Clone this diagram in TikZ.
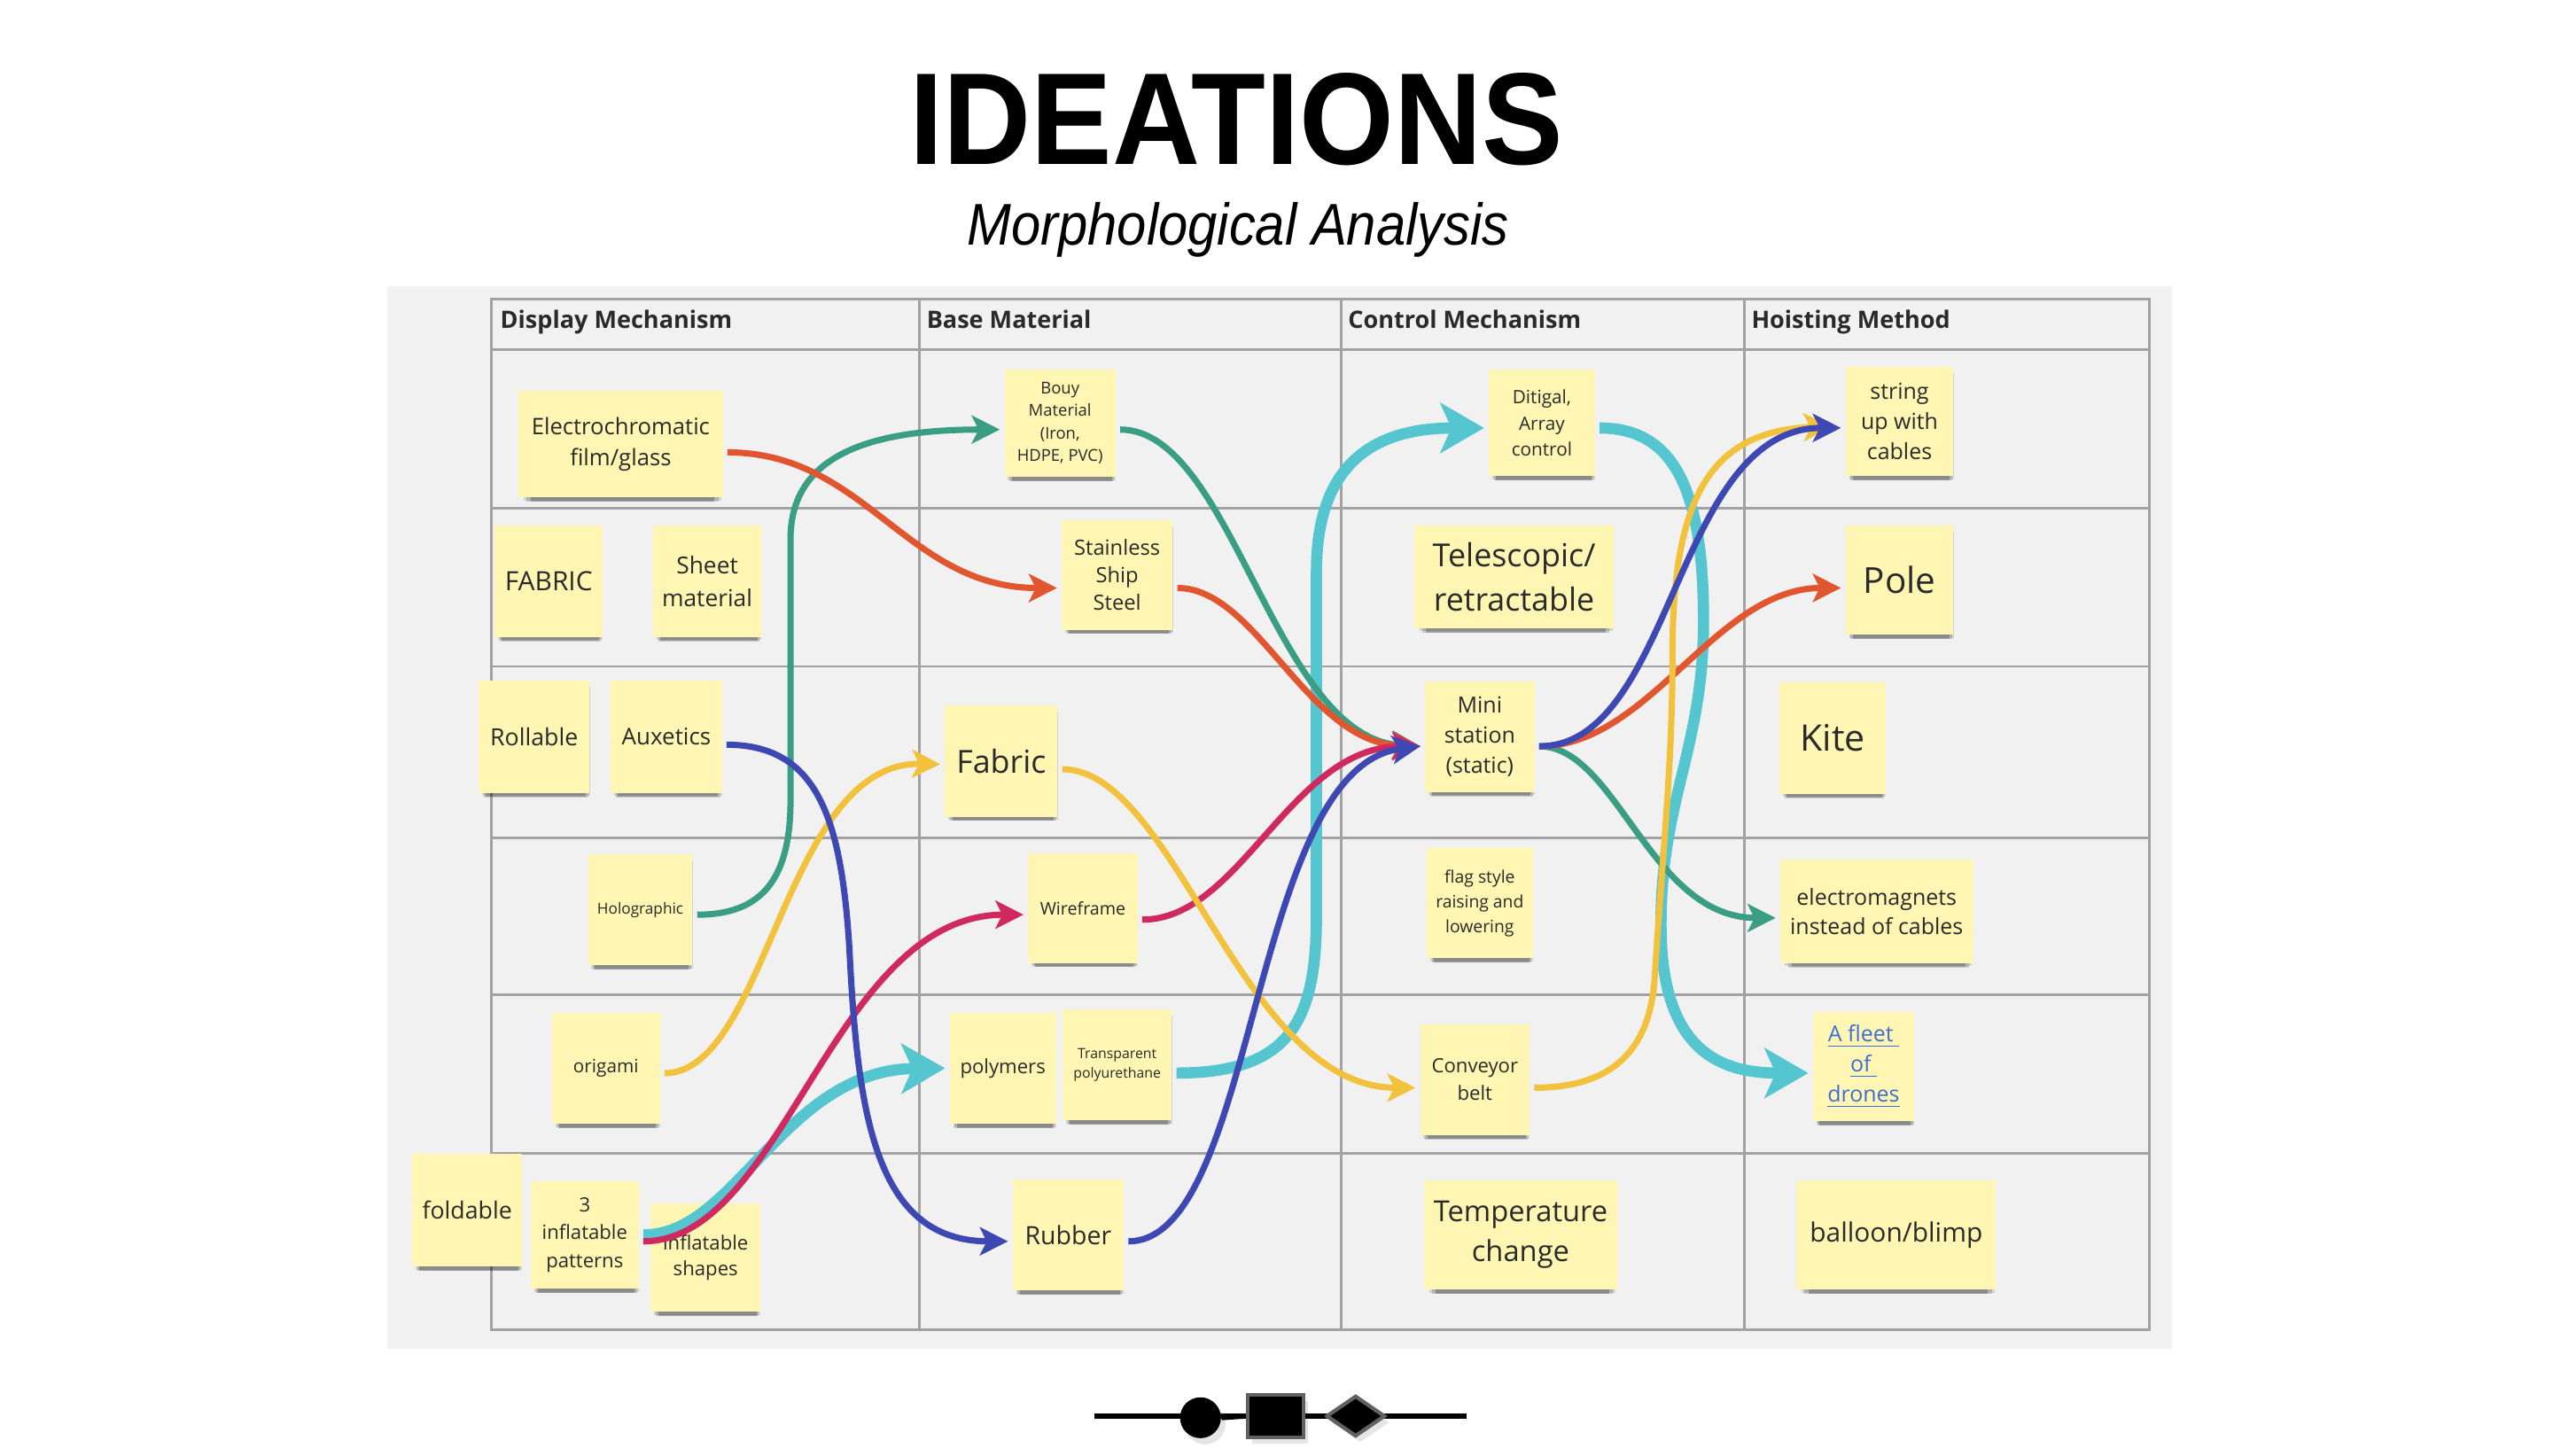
\documentclass[tikz,border=0pt]{standalone}
\usepackage{fontspec}
\setmainfont{Open Sans}
\newfontfamily\arialf{Liberation Sans}
\usepackage{graphicx}
\usetikzlibrary{arrows.meta,shadows,shapes.geometric,calc}
\definecolor{notey}{HTML}{FEF6B2}
\definecolor{notetext}{HTML}{2A2A2A}
\definecolor{panelc}{HTML}{F1F1F1}
\definecolor{gridc}{HTML}{A2A2A2}
\definecolor{cred}{HTML}{E1552F}
\definecolor{cteal}{HTML}{3A9E85}
\definecolor{cblue}{HTML}{3D48B2}
\definecolor{cyell}{HTML}{F3C23D}
\definecolor{cmag}{HTML}{CF2960}
\definecolor{ccyan}{HTML}{55C6D0}
\definecolor{linkb}{HTML}{3F6CD8}
\newcommand\setfs[2]{\fontsize{#1}{#2}\selectfont}
\begin{document}
\begin{tikzpicture}[x=0.018431cm,y=-0.018431cm,
  note/.style={fill=notey, inner sep=1pt, outer sep=1.5pt, align=center, text=notetext,
    drop shadow={shadow xshift=0.6pt, shadow yshift=-1.6pt, shadow scale=0.97, opacity=0.12, fill=black},
    drop shadow={shadow xshift=0.6pt, shadow yshift=-2.6pt, shadow scale=0.94, opacity=0.16, fill=black},
    drop shadow={shadow xshift=0.6pt, shadow yshift=-3.4pt, shadow scale=0.90, opacity=0.22, fill=black}},
  sz/.style 2 args={minimum width=#1*0.5245pt, minimum height=#2*0.5245pt},
  gridl/.style={draw=gridc, line width=0.8pt},
  hdr/.style={anchor=base west, inner sep=0pt, text=notetext, font=\setfs{7.7}{9}\bfseries},
  link/.style={line width=2pt, -{Stealth[length=9pt,width=9pt,inset=2.2pt]}},
  fatlink/.style={line width=3.6pt, -{Stealth[length=14pt,width=16pt,inset=3.5pt]}},
  logoshape/.style={inner sep=0pt, drop shadow={opacity=0.2, shadow xshift=1.5pt, shadow yshift=-2pt}}
]
\useasboundingbox (0,0) rectangle (1568,891);
\fill[white] (0,0) rectangle (1568,891);

% title
\node[inner sep=0pt] (title) at (757,73) {\scalebox{0.93}[1]{\arialf\bfseries\fontsize{42}{42}\selectfont IDEATIONS}};
\node[anchor=base, inner sep=0pt] (subtitle) at (758,150) {\scalebox{0.9}[1]{\arialf\itshape\fontsize{18.9}{20}\selectfont Morphological Analysis}};

% panel and grid
\fill[panelc] (237,175) rectangle (1330,826);
\draw[gridl] (301,183) rectangle (1316,814);
\foreach \gx in {563,821,1068} \draw[gridl] (\gx,183) -- (\gx,814);
\foreach \gy in {214,311,408,513,609,706} \draw[gridl] (301,\gy) -- (1316,\gy);

% headers
\node[hdr] (h1) at (306,201) {Display Mechanism};
\node[hdr] (h2) at (567,201) {Base Material};
\node[hdr] (h3) at (825,201) {Control Mechanism};
\node[hdr] (h4) at (1072,201) {Hoisting Method};

% row 1
\node[note,sz={125}{65},font=\setfs{7.3}{10}] (elec) at (380,272) {Electrochromatic\\film/glass};
\node[note,sz={68}{66},font=\setfs{5.25}{7.2}] (bouy) at (649,259) {Bouy\\Material\\(Iron,\\HDPE, PVC)};
\node[note,sz={65}{65},font=\setfs{5.9}{8.4}] (digi) at (944,259) {Ditigal,\\Array\\control};
\node[note,sz={66}{67},font=\setfs{7.1}{9.7}] (strg) at (1163,258) {string\\up with\\cables};
% row 2
\node[note,sz={66}{68},font=\setfs{8.5}{10}] (fab1) at (336,356) {FABRIC};
\node[note,sz={66}{68},font=\setfs{7.5}{10.5}] (sheet) at (433,356) {Sheet\\material};
\node[note,sz={68}{67},font=\setfs{6.75}{8.9}] (steel) at (684,352) {Stainless\\Ship\\Steel};
\node[note,sz={122}{63},font=\setfs{10.2}{14.2}] (tele) at (927,353) {Telescopic/\\retractable};
\node[note,sz={66}{67},font=\setfs{11.5}{13}] (pole) at (1163,355) {Pole};
% row 3
\node[note,sz={68}{69},font=\setfs{7.6}{10}] (roll) at (327,451) {Rollable};
\node[note,sz={68}{69},font=\setfs{7.4}{10}] (aux) at (408,451) {Auxetics};
\node[note,sz={69}{68},font=\setfs{10.2}{12}] (fab2) at (613,466) {Fabric};
\node[note,sz={67}{68},font=\setfs{7.1}{9.7}] (mini) at (906,451) {Mini\\station\\(static)};
\node[note,sz={65}{68},font=\setfs{11.7}{13}] (kite) at (1122,452) {Kite};
% row 4
\node[note,sz={64}{68},font=\setfs{4.9}{6}] (holo) at (392,557) {Holographic};
\node[note,sz={67}{67},font=\setfs{5.6}{7}] (wire) at (663,556) {Wireframe};
\node[note,sz={65}{67},font=\setfs{5.5}{7.9}] (flag) at (906,553) {flag style\\raising and\\lowering};
\node[note,sz={118}{63},font=\setfs{7.1}{9.4}] (emag) at (1149,558) {electromagnets\\instead of cables};
% row 5
\node[note,sz={66}{68},font=\setfs{5.9}{7}] (orig) at (371,654) {origami};
\node[note,sz={65}{68},font=\setfs{6.3}{8}] (poly) at (614,654) {polymers};
\node[note,sz={67}{68},font=\setfs{4.5}{6.3}] (tpu) at (684,652) {Transparent\\polyurethane};
\node[note,sz={67}{68},font=\setfs{6.3}{8.9}] (conv) at (903,661) {Conveyor\\belt};
\node[note,sz={62}{67},font=\setfs{7.1}{9.7},text=linkb] (drones) at (1141,653) {\underline{A fleet\ }\\\underline{of\ }\\\underline{drones}};
% row 6
\node[note,sz={67}{69},font=\setfs{7.6}{10}] (fold) at (286,741) {foldable};
\node[note,sz={66}{66},font=\setfs{6.3}{8.9}] (infl3) at (358,756) {3\\inflatable\\patterns};
\node[note,sz={67}{66},font=\setfs{6.3}{8.3}] (infls) at (432,770) {inflatable\\shapes};
\node[note,sz={68}{68},font=\setfs{8.1}{10}] (rubber) at (654,756) {Rubber};
\node[note,sz={118}{67},font=\setfs{9.3}{13}] (temp) at (931,756) {Temperature\\change};
\node[note,sz={122}{67},font=\setfs{8.5}{10}] (balloon) at (1161,756) {balloon/blimp};

% cyan connectors
\draw[fatlink, ccyan] (infl3.east) .. controls (450,757) and (480,655) .. (poly.west);
\draw[fatlink, ccyan] ([yshift=-2.6pt]tpu.east) .. controls (790,657) and (806,625) .. (806,560) -- (806,350) .. controls (806,285) and (840,262) .. ([yshift=-1.6pt]digi.west);
\draw[fatlink, ccyan] ([yshift=-1.6pt]digi.east) .. controls (1025,262) and (1043,300) .. (1043,380) .. controls (1043,460) and (1016,490) .. (1017,570) .. controls (1018,640) and (1050,657) .. ([yshift=-2.1pt]drones.west);

% teal connectors
\draw[link, cteal] ([yshift=-1.6pt]holo.east) .. controls (465,560) and (484,540) .. (484,490) -- (484,330) .. controls (484,280) and (530,263) .. ([yshift=-2.1pt]bouy.west);
\draw[link, cteal] ([yshift=-2.1pt]bouy.east) .. controls (755,263) and (780,452) .. ([yshift=-3.1pt]mini.west);
\draw[link, cteal] ([yshift=-3.1pt]mini.east) .. controls (990,457) and (1010,562) .. ([yshift=-2.1pt]emag.west);

% red connectors
\draw[link, cred] ([yshift=-2.6pt]elec.east) .. controls (530,277) and (555,360) .. ([yshift=-4.2pt]steel.west);
\draw[link, cred] ([yshift=-4.2pt]steel.east) .. controls (770,360) and (800,455) .. ([yshift=-3.1pt]mini.west);
\draw[link, cred] ([yshift=-3.1pt]mini.east) .. controls (1010,457) and (1050,360) .. ([yshift=-2.6pt]pole.west);

% magenta connectors
\draw[link, cmag] ([yshift=-2.1pt]infl3.east) .. controls (480,760) and (510,560) .. ([yshift=-2.1pt]wire.west);
\draw[link, cmag] ([yshift=-3.7pt]wire.east) .. controls (760,563) and (790,457) .. ([yshift=-3.1pt]mini.west);

% yellow connectors
\draw[link, cyell] ([yshift=-1.6pt]orig.east) .. controls (470,657) and (480,466) .. ([yshift=-1pt]fab2.west);
\draw[link, cyell] ([yshift=-2.6pt]fab2.east) .. controls (720,471) and (760,666) .. ([yshift=-2.6pt]conv.west);
\draw[link, cyell] ([yshift=-2.6pt]conv.east) .. controls (990,666) and (1010,640) .. (1013,600) .. controls (1018,520) and (1024,470) .. (1024,400) .. controls (1024,300) and (1050,264) .. ([xshift=-3pt,yshift=-1.5pt]strg.west);

% blue connectors
\draw[link, cblue] ([yshift=-2.6pt]aux.east) .. controls (500,456) and (515,500) .. (520,580) .. controls (525,680) and (535,760) .. ([yshift=-2.1pt]rubber.west);
\draw[link, cblue] ([yshift=-2.1pt]rubber.east) .. controls (770,760) and (765,470) .. ([yshift=-3.1pt]mini.west);
\draw[link, cblue] ([yshift=-3.1pt]mini.east) .. controls (1025,457) and (1025,262) .. ([yshift=-2.1pt]strg.west);

% logo
\coordinate (lgA) at (670,867);
\coordinate (lgB) at (898,867);
\draw[line width=1.6pt, black] (lgA) -- (lgB);
\node[logoshape, circle, fill=black, minimum size=25*0.5245pt] (lgc) at (735,868) {};
\node[logoshape, rectangle, fill=black, draw=black!62, line width=1.2pt, minimum width=34*0.5245pt, minimum height=26*0.5245pt] (lgs) at (781,867) {};
\node[logoshape, diamond, fill=black, draw=black!62, line width=1.2pt, minimum width=36*0.5245pt, minimum height=25*0.5245pt] (lgd) at (830,867) {};
\draw[line width=1.6pt, black] (lgc.east) -- (lgs.west);
\draw[line width=1.6pt, black] (lgs.east) -- (lgd.west);
\end{tikzpicture}
\end{document}
